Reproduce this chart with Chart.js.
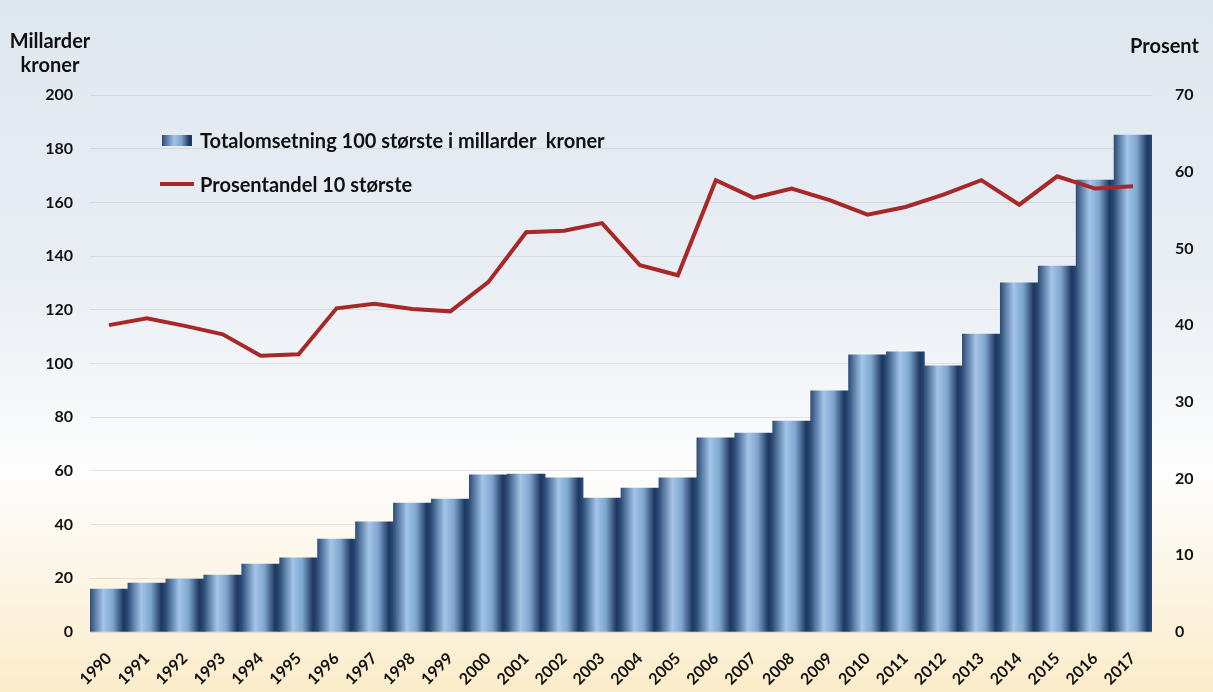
<!DOCTYPE html>
<html>
<head>
<meta charset="utf-8">
<script src="https://cdn.jsdelivr.net/npm/chart.js@4"></script>
<style>
  html, body { margin: 0; padding: 0; }
  body {
    width: 1213px; height: 692px; overflow: hidden; position: relative;
    font-family: Lato, "Open Sans", sans-serif; font-weight: bold; color: #111;
    background: linear-gradient(to bottom, #dfe7f0 0%, #e9eef4 40%, #fdfdfd 68%, #fdf5e4 85%, #fbecc9 100%);
  }
  #wrap { position: absolute; left: 0; top: 0; width: 1213px; height: 692px; }
  .lbl { position: absolute; font-size: 20px; line-height: 24px; }
  .leg { position: absolute; font-size: 20px; line-height: 24px; display: flex; align-items: center; }
</style>
</head>
<body>
<div id="wrap"><canvas id="chart" width="1213" height="692"></canvas></div>
<div class="lbl" style="left:2px; top:28px; width:96px; text-align:center;">Millarder<br>kroner</div>
<div class="lbl" style="left:1130px; top:33px;">Prosent</div>
<div class="leg" style="left:162px; top:128px;">
  <span style="display:inline-block;width:30px;height:11px;margin-right:8px;background:linear-gradient(to right,#2a4a75,#a0c3e6 40%,#7ea4cc 65%,#1e3a63 90%);"></span>Totalomsetning 100 største i millarder&nbsp; kroner
</div>
<div class="leg" style="left:160px; top:172px;">
  <span style="display:inline-block;width:34px;height:4px;margin-right:6px;background:#a82828;"></span>Prosentandel 10 største
</div>
<script>
// Categories and values
const years = ['1990','1991','1992','1993','1994','1995','1996','1997','1998','1999',
  '2000','2001','2002','2003','2004','2005','2006','2007','2008','2009',
  '2010','2011','2012','2013','2014','2015','2016','2017'];

// Totalomsetning 100 største (millarder kroner)
const turnover = [16.0, 18.2, 19.7, 21.2, 25.3, 27.6, 34.6, 41.0, 48.0, 49.5,
  58.5, 58.8, 57.4, 49.9, 53.6, 57.4, 72.3, 74.1, 78.6, 89.8,
  103.2, 104.3, 99.1, 111.0, 130.0, 136.3, 168.3, 185.1];

// Prosentandel 10 største
const share = [40.0, 40.9, 39.9, 38.8, 36.0, 36.2, 42.2, 42.8, 42.1, 41.8,
  45.6, 52.1, 52.3, 53.3, 47.8, 46.5, 58.9, 56.6, 57.8, 56.3,
  54.4, 55.4, 57.0, 58.9, 55.7, 59.4, 57.8, 58.1];

const leftTicks = { min: 0, max: 200, step: 20 };
const rightTicks = { min: 0, max: 70, step: 10 };

// horizontal "cylinder" gradient for each bar
function barFill(c) {
  const chart = c.chart;
  const x = chart.scales && chart.scales.x;
  if (!x || !chart.chartArea) return '#5f86b3';
  const cx = x.getPixelForValue(c.dataIndex);
  const w = (chart.chartArea.right - chart.chartArea.left) / years.length;
  const g = chart.ctx.createLinearGradient(cx - w / 2, 0, cx + w / 2, 0);
  g.addColorStop(0, '#2d4d78');
  g.addColorStop(0.35, '#a3c5e8');
  g.addColorStop(0.6, '#7fa5cd');
  g.addColorStop(0.88, '#1d3860');
  g.addColorStop(1, '#2b4a74');
  return g;
}

const tickFont = { family: 'Lato, "Open Sans", sans-serif', size: 16, weight: 'bold' };

new Chart(document.getElementById('chart'), {
  data: {
    labels: years,
    datasets: [
      {
        type: 'line',
        label: 'Prosentandel 10 største',
        data: share,
        yAxisID: 'y1',
        borderColor: '#a82828',
        borderWidth: 4,
        pointRadius: 0,
        tension: 0,
        order: 0
      },
      {
        type: 'bar',
        label: 'Totalomsetning 100 største i millarder  kroner',
        data: turnover,
        yAxisID: 'y',
        backgroundColor: barFill,
        borderWidth: 0,
        barPercentage: 1.0,
        categoryPercentage: 1.0,
        order: 1
      }
    ]
  },
  options: {
    responsive: false,
    animation: false,
    layout: { padding: { top: 95, left: 0, right: 0, bottom: 0 } },
    plugins: {
      legend: { display: false },
      tooltip: { enabled: false }
    },
    scales: {
      x: {
        grid: { display: false },
        border: { display: false },
        ticks: {
          color: '#111', font: tickFont,
          maxRotation: 45, minRotation: 45, padding: 9, autoSkip: false
        },
        afterFit: s => { s.height = 60; }
      },
      y: {
        position: 'left',
        min: leftTicks.min, max: leftTicks.max,
        ticks: { stepSize: leftTicks.step, color: '#111', font: tickFont, padding: 17 },
        grid: { color: 'rgba(190,190,190,0.4)', lineWidth: 1, drawTicks: false },
        border: { display: false },
        afterFit: s => { s.width = 90; }
      },
      y1: {
        position: 'right',
        min: rightTicks.min, max: rightTicks.max,
        ticks: { stepSize: rightTicks.step, color: '#111', font: tickFont, padding: 15 },
        grid: { display: false },
        border: { display: false },
        afterFit: s => { s.width = 61; }
      }
    }
  }
});
</script>
</body>
</html>
